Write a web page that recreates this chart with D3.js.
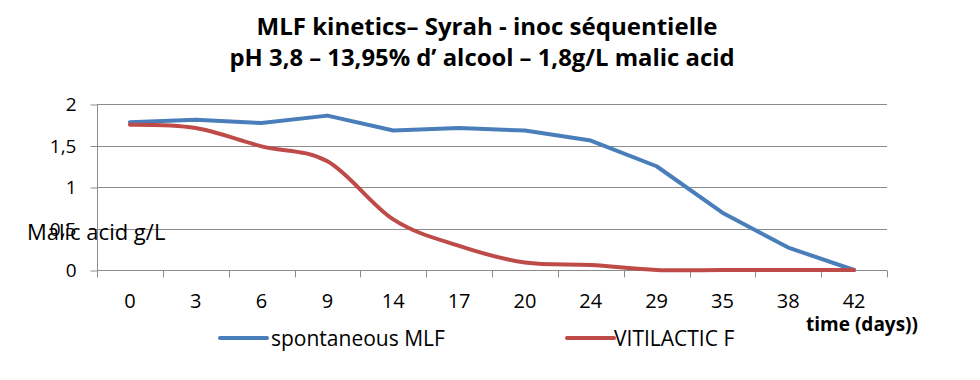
<!DOCTYPE html>
<html>
<head>
<meta charset="utf-8">
<script src="https://cdn.jsdelivr.net/npm/d3@7"></script>
<style>
  body { margin: 0; background: #fff; }
  svg { display: block; font-family: "Open Sans", "Noto Sans", sans-serif; }
</style>
</head>
<body>
<svg id="chart" width="980" height="380"></svg>
<script>
// days of sampling (category axis)
const days = ["0", "3", "6", "9", "14", "17", "20", "24", "29", "35", "38", "42"];
// malic acid, g/L
const spontaneous = [1.78, 1.81, 1.77, 1.86, 1.68, 1.71, 1.68, 1.56, 1.25, 0.69, 0.27, 0];
const vitilactic = [1.75, 1.71, 1.49, 1.31, 0.61, 0.29, 0.09, 0.06, 0, 0, 0, 0];
const yTicks = [0, 0.5, 1, 1.5, 2];

const seriesList = [
  { name: "spontaneous MLF", values: spontaneous, color: "#4a7ebb", curve: d3.curveLinear },
  { name: "VITILACTIC F", values: vitilactic, color: "#be4b48", curve: d3.curveCatmullRom.alpha(0) },
];

const svg = d3.select("#chart");
const plotLeft = 97, plotRight = 887, plotTop = 104, plotBottom = 270;

const x = d3.scaleBand().domain(days).range([plotLeft, plotRight]);
const y = d3.scaleLinear().domain([0, 2]).range([plotBottom, plotTop]);
const fmt = (d) => String(d).replace(".", ",");

// title
const title = svg.append("g").attr("font-weight", "bold").attr("font-size", 23).attr("text-anchor", "middle");
title.append("text").attr("x", 487).attr("y", 35)
  .attr("textLength", 461).attr("lengthAdjust", "spacingAndGlyphs")
  .text("MLF kinetics\u2013 Syrah  - inoc séquentielle");
title.append("text").attr("x", 482).attr("y", 66)
  .attr("textLength", 505).attr("lengthAdjust", "spacingAndGlyphs")
  .text("pH 3,8 \u2013 13,95% d\u2019 alcool \u2013 1,8g/L malic acid");

// gridlines
svg.append("g")
  .selectAll("line")
  .data(yTicks.filter((d) => d > 0))
  .join("line")
  .attr("x1", plotLeft).attr("x2", plotRight)
  .attr("y1", (d) => Math.round(y(d)) + 0.5).attr("y2", (d) => Math.round(y(d)) + 0.5)
  .attr("stroke", "#8c8c8c").attr("stroke-width", 1);

// y axis
const yAxis = svg.append("g")
  .attr("transform", `translate(${plotLeft + 0.5},0.5)`)
  .call(d3.axisLeft(y).tickValues(yTicks).tickFormat(fmt).tickSize(7).tickPadding(14));
yAxis.select(".domain").attr("stroke", "#8c8c8c").attr("d", `M0,${plotTop}V${plotBottom}`);
yAxis.selectAll(".tick line").attr("stroke", "#8c8c8c");
yAxis.selectAll(".tick text").attr("font-size", 19).attr("fill", "#000").attr("font-family", "Open Sans");

// x axis: labels centred in bands, ticks on band edges
const xAxis = svg.append("g")
  .attr("transform", `translate(0,${plotBottom + 0.5})`)
  .call(d3.axisBottom(x).tickSize(0));
xAxis.select(".domain").attr("stroke", "#8c8c8c").attr("d", `M${plotLeft},0H${plotRight}`);
xAxis.selectAll(".tick text")
  .attr("y", 37).attr("dy", null)
  .attr("font-size", 20).attr("fill", "#000").attr("font-family", "Open Sans");
xAxis.append("g")
  .selectAll("line")
  .data(days.map((d) => x(d)).concat([plotRight]))
  .join("line")
  .attr("x1", (d) => Math.round(d) + 0.5).attr("x2", (d) => Math.round(d) + 0.5)
  .attr("y1", 0).attr("y2", 7)
  .attr("stroke", "#8c8c8c");

// y title sits over the 0,5 label, as in the original
svg.append("text")
  .attr("x", 27).attr("y", 240)
  .attr("font-size", 22)
  .text("Malic acid g/L");

// x title
svg.append("text")
  .attr("x", 918).attr("y", 331)
  .attr("text-anchor", "end")
  .attr("font-size", 19).attr("font-weight", "bold")
  .text("time (days))");

// series
const cx = (i) => x(days[i]) + x.bandwidth() / 2;
seriesList.forEach((s) => {
  svg.append("path")
    .datum(s.values)
    .attr("fill", "none")
    .attr("stroke", s.color)
    .attr("stroke-width", 4)
    .attr("stroke-linejoin", "round")
    .attr("stroke-linecap", "round")
    .attr("d", d3.line().x((d, i) => cx(i)).y((d) => y(d)).curve(s.curve));
});

// legend
const legendPos = [220, 567];
const legend = svg.append("g").selectAll("g").data(seriesList).join("g")
  .attr("transform", (d, i) => `translate(${legendPos[i]},338)`);
legend.append("line")
  .attr("x1", 0).attr("x2", 47)
  .attr("stroke", (d) => d.color).attr("stroke-width", 4).attr("stroke-linecap", "round");
legend.append("text")
  .attr("x", (d, i) => (i === 0 ? 51 : 47)).attr("y", 8)
  .attr("font-size", 21)
  .text((d) => d.name);
</script>
</body>
</html>
